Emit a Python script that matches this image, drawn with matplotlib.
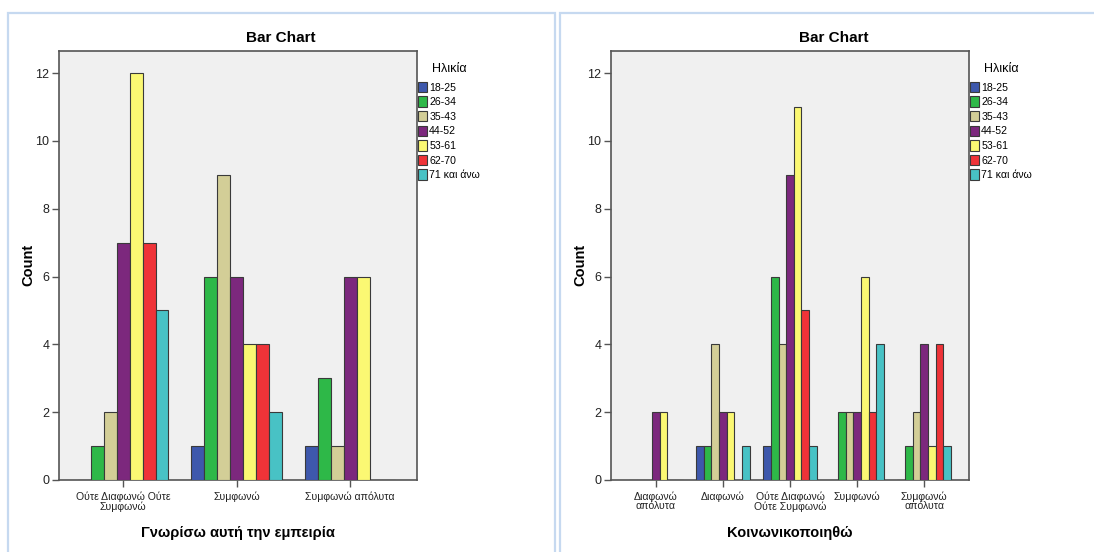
import matplotlib
matplotlib.use("Agg")
import matplotlib.pyplot as plt
import numpy as np
from matplotlib.patches import Patch, Rectangle

# Age groups (legend) and their colours
age_groups = ["18-25", "26-34", "35-43", "44-52", "53-61", "62-70", "71 και άνω"]
age_colors = ["#3e58ac", "#2eb848", "#d3ce97", "#7c287d", "#fbf873", "#ef3338", "#48c2c5"]

# Left chart: Γνωρίσω αυτή την εμπειρία
exp_categories = ["Ούτε Διαφωνώ Ούτε\nΣυμφωνώ", "Συμφωνώ", "Συμφωνώ απόλυτα"]
exp_counts = [
    [0, 1, 1],    # 18-25
    [1, 6, 3],    # 26-34
    [2, 9, 1],    # 35-43
    [7, 6, 6],    # 44-52
    [12, 4, 6],   # 53-61
    [7, 4, 0],    # 62-70
    [5, 2, 0],    # 71 και άνω
]

# Right chart: Κοινωνικοποιηθώ
soc_categories = ["Διαφωνώ\nαπόλυτα", "Διαφωνώ", "Ούτε Διαφωνώ\nΟύτε Συμφωνώ",
                  "Συμφωνώ", "Συμφωνώ\nαπόλυτα"]
soc_counts = [
    [0, 1, 1, 0, 0],    # 18-25
    [0, 1, 6, 2, 1],    # 26-34
    [0, 4, 4, 2, 2],    # 35-43
    [2, 2, 9, 2, 4],    # 44-52
    [2, 2, 11, 6, 1],   # 53-61
    [0, 0, 5, 2, 4],    # 62-70
    [0, 1, 1, 4, 1],    # 71 και άνω
]

y_ticks = [0, 2, 4, 6, 8, 10, 12]

NARROW = ["Liberation Sans Narrow", "Liberation Sans", "DejaVu Sans"]
REGULAR = ["Liberation Sans", "DejaVu Sans"]

W, H = 1094, 552
fig = plt.figure(figsize=(W / 100, H / 100), dpi=100)
fig.patch.set_facecolor("white")

border_col = "#c6d9f0"
# panel frames
fig.add_artist(Rectangle((7.5 / W, -0.05), (555 - 7.5) / W, 1.05 - 12.5 / H,
                         transform=fig.transFigure, fill=False,
                         edgecolor=border_col, lw=1.6))
fig.add_artist(Rectangle((559.5 / W, -0.05), 0.5, 1.05 - 12.5 / H,
                         transform=fig.transFigure, fill=False,
                         edgecolor=border_col, lw=1.6))


def draw_panel(left_px, categories, counts, xlabel, xlim, title_x):
    ax = fig.add_axes([left_px / W, (H - 480) / H, 358 / W, 429 / H])
    ax.set_facecolor("#f0f0f0")
    n = len(age_groups)
    width = 0.8 / n
    x = np.arange(len(categories))
    for i, (lab, col) in enumerate(zip(age_groups, age_colors)):
        vals = np.array(counts[i], dtype=float)
        pos = x + (i - (n - 1) / 2) * width
        ax.bar(pos, vals, width=width, color=col, edgecolor="#3a3a3a",
               linewidth=0.8, zorder=3)
    ax.set_xlim(*xlim)
    ax.set_ylim(0, 12.65)
    ax.set_yticks(y_ticks)
    ax.set_yticklabels([str(t) for t in y_ticks], family=NARROW, fontsize=9,
                       color="#222222")
    ax.set_xticks(x)
    ax.set_xticklabels(categories, family=NARROW, fontsize=7.6, color="#222222",
                       linespacing=0.95)
    ax.tick_params(axis="both", direction="out", length=5, width=1.0,
                   color="#555555", pad=2)
    ax.tick_params(axis="x", pad=3)
    for s in ax.spines.values():
        s.set_color("#555555")
        s.set_linewidth(1.2)
    handles = [Patch(facecolor=c, edgecolor="#3a3a3a", linewidth=0.8, label=l)
               for l, c in zip(age_groups, age_colors)]
    leg = ax.legend(handles=handles, title="Ηλικία", loc="upper left",
                    bbox_to_anchor=(1.0, 0.975), frameon=False,
                    prop={"family": NARROW, "size": 7.6},
                    title_fontproperties={"family": REGULAR, "size": 9},
                    handlelength=0.8, handleheight=1.15, handletextpad=0.25,
                    labelspacing=0.36, borderpad=0.0, borderaxespad=0.1)
    leg._legend_box.sep = 5
    fig.text(title_x / W, 1 - 38 / H, "Bar Chart", ha="center", va="center",
             family=REGULAR, fontsize=11, fontweight="bold")
    fig.text((left_px + 179) / W, 1 - 533 / H, xlabel, ha="center", va="center",
             family=REGULAR, fontsize=10.5, fontweight="bold")
    fig.text((left_px - 31) / W, 1 - 265 / H, "Count", ha="center", va="center",
             rotation=90, family=REGULAR, fontsize=10.5, fontweight="bold")
    return ax


draw_panel(59, exp_categories, exp_counts, "Γνωρίσω αυτή την εμπειρία",
           (-0.565, 2.59), 281)
draw_panel(611, soc_categories, soc_counts, "Κοινωνικοποιηθώ",
           (-0.67, 4.67), 834)

fig.savefig("out.png", dpi=100, facecolor="white")
